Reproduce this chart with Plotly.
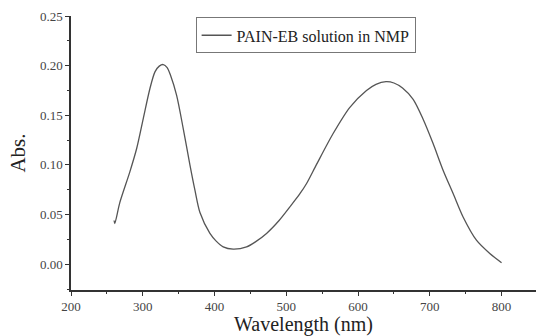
import plotly.graph_objects as go

wavelength = [260, 261, 268, 282, 291.5, 300.7, 310, 317, 323, 328.6, 334, 338.8, 347.2, 356.4, 365.7,
              372.7, 379.7, 393.6, 402, 412.1, 426, 444.7, 457, 472.5, 490, 505, 519, 528.3, 542.2,
              565.3, 588.6, 611.8, 625, 639, 650, 662, 676.8, 690.7, 704.6, 718.5, 732.5, 746.4, 765,
              783.6, 800]
absorbance = [0.044, 0.041, 0.062, 0.093, 0.1165, 0.1467, 0.177, 0.1937, 0.1995, 0.2011, 0.198, 0.190,
              0.170, 0.1366, 0.100, 0.0745, 0.052, 0.031, 0.0235, 0.0174, 0.0151, 0.0174, 0.0225,
              0.031, 0.044, 0.0577, 0.071, 0.0813, 0.1005, 0.1316, 0.158, 0.175, 0.1812, 0.1838,
              0.1825, 0.1775, 0.166, 0.146, 0.1215, 0.0947, 0.0712, 0.0476, 0.0242, 0.0108, 0.0015]
series_name = "PAIN-EB solution in NMP"

fig = go.Figure()
fig.add_trace(go.Scatter(x=wavelength, y=absorbance, mode="lines", name=series_name,
                         line=dict(color="#555555", width=1.3, shape="spline", smoothing=0.8)))

font_family = "Liberation Serif, Times New Roman, serif"
fig.update_layout(
    width=536, height=336,
    margin=dict(l=71, r=0, t=16, b=46),
    paper_bgcolor="white", plot_bgcolor="white",
    font=dict(family=font_family, color="#333333"),
    showlegend=True,
    legend=dict(x=0.268, y=0.995, xanchor="left", yanchor="top",
                bordercolor="#777777", borderwidth=1, bgcolor="white",
                font=dict(size=16, family=font_family, color="#222222"),
                itemwidth=30, tracegroupgap=0),
)
fig.update_xaxes(range=[200, 848], tickmode="linear", tick0=200, dtick=100, automargin=False,
                 showline=True, linecolor="#333333", linewidth=1.5, showgrid=False, zeroline=False,
                 ticks="outside", ticklen=4, tickwidth=1.2, tickcolor="#333333",
                 minor=dict(ticks="outside", ticklen=2, dtick=50, tick0=200, tickcolor="#333333", showgrid=False),
                 tickfont=dict(size=13, family=font_family, color="#444444"),
                 title=dict(text="Wavelength (nm)", font=dict(size=20, family=font_family, color="#222222"),
                            standoff=2))
fig.update_yaxes(range=[-0.026, 0.25], tickmode="linear", tick0=0, dtick=0.05, tickformat=".2f",
                 automargin=False,
                 showline=True, linecolor="#333333", linewidth=1.5, showgrid=False, zeroline=False,
                 ticks="outside", ticklen=4, tickwidth=1.2, tickcolor="#333333",
                 minor=dict(ticks="outside", ticklen=2, dtick=0.025, tick0=0, tickcolor="#333333", showgrid=False),
                 tickfont=dict(size=13, family=font_family, color="#444444"),
                 title=dict(text="Abs.", font=dict(size=21, family=font_family, color="#222222"),
                            standoff=9))

fig.write_html("out.html", config={"displayModeBar": False},
               post_script="document.body.style.margin='0';document.body.style.overflow='hidden';")
